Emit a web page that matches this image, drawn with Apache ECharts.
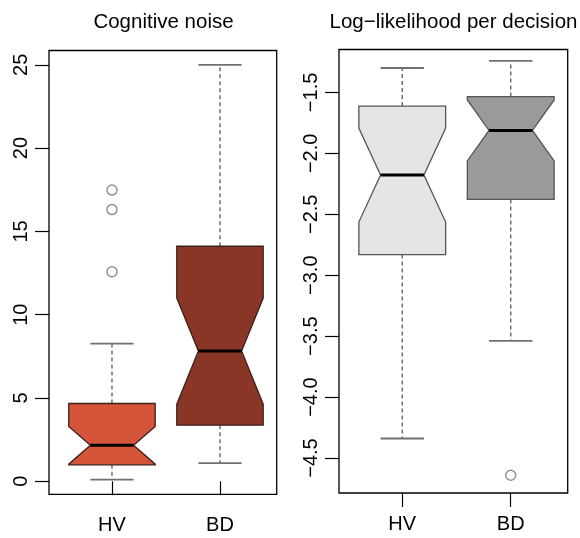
<!DOCTYPE html>
<html>
<head>
<meta charset="utf-8">
<script src="https://cdn.jsdelivr.net/npm/echarts@6/dist/echarts.min.js"></script>
<style>
  html, body { margin: 0; padding: 0; background: #ffffff; }
  #chart { width: 580px; height: 538px; }
</style>
</head>
<body>
<div id="chart"></div>
<script>
// ---- data ----
const categories = ['HV', 'BD'];
const titles = ['Cognitive noise', 'Log\u2212likelihood per decision'];
const noiseTicks = [0, 5, 10, 15, 20, 25];
const llTicks = [-4.5, -4.0, -3.5, -3.0, -2.5, -2.0, -1.5];
// [lower whisker, Q1, notch low, median, notch high, Q3, upper whisker]
const noiseHV = [0.1, 0.99, 1.03, 2.16, 3.29, 4.67, 8.27];
const noiseBD = [1.09, 3.37, 4.63, 7.82, 11.0, 14.11, 25.0];
const noiseOutHV = [12.58, 16.31, 17.48];
const noiseOutBD = [];
const llHV = [-4.34, -2.831, -2.564, -2.178, -1.792, -1.612, -1.30];
const llBD = [-3.538, -2.378, -2.062, -1.812, -1.562, -1.534, -1.241];
const llOutHV = [];
const llOutBD = [-4.641];

// ---- styles ----
const FONT = 'Liberation Sans, Arial, Helvetica, sans-serif';
const fillsLeft = ['#D4553A', '#8A3626'];
const fillsRight = ['#E5E5E5', '#9A9A9A'];
const borderLeft = '#3d2118';
const borderRight = '#555555';
const BOX_HALF = 0.4, NOTCH_HALF = 0.2, CAP_HALF = 0.2;

function boxData(stats) {
  return stats.map((s, i) => [i + 1].concat(s));
}
function outData(outs) {
  const d = [];
  outs.forEach((arr, i) => arr.forEach(v => d.push([i + 1, v])));
  return d;
}

function makeRender(fills, border) {
  return function (params, api) {
    const x = api.value(0);
    const lo = api.value(1), q1 = api.value(2), nlo = api.value(3), med = api.value(4),
          nhi = api.value(5), q3 = api.value(6), hi = api.value(7);
    const c = (xx, yy) => api.coord([xx, yy]);
    const poly = [
      c(x - BOX_HALF, q1), c(x + BOX_HALF, q1), c(x + BOX_HALF, nlo), c(x + NOTCH_HALF, med),
      c(x + BOX_HALF, nhi), c(x + BOX_HALF, q3), c(x - BOX_HALF, q3), c(x - BOX_HALF, nhi),
      c(x - NOTCH_HALF, med), c(x - BOX_HALF, nlo)
    ];
    const whiskerStyle = { stroke: '#666666', lineWidth: 1.4, lineDash: [4, 3], fill: null };
    const capStyle = { stroke: '#707070', lineWidth: 1.8, fill: null };
    return {
      type: 'group',
      children: [
        { type: 'line', shape: { x1: c(x, q3)[0], y1: c(x, q3)[1], x2: c(x, hi)[0], y2: c(x, hi)[1] }, style: whiskerStyle },
        { type: 'line', shape: { x1: c(x, q1)[0], y1: c(x, q1)[1], x2: c(x, lo)[0], y2: c(x, lo)[1] }, style: whiskerStyle },
        { type: 'line', shape: { x1: c(x - CAP_HALF, hi)[0], y1: c(x, hi)[1], x2: c(x + CAP_HALF, hi)[0], y2: c(x, hi)[1] }, style: capStyle },
        { type: 'line', shape: { x1: c(x - CAP_HALF, lo)[0], y1: c(x, lo)[1], x2: c(x + CAP_HALF, lo)[0], y2: c(x, lo)[1] }, style: capStyle },
        { type: 'polygon', shape: { points: poly }, style: { fill: fills[params.dataIndex], stroke: border, lineWidth: 1.3 } },
        { type: 'line', shape: { x1: c(x - NOTCH_HALF, med)[0], y1: c(x, med)[1], x2: c(x + NOTCH_HALF, med)[0], y2: c(x, med)[1] }, style: { stroke: '#000000', lineWidth: 3 } }
      ]
    };
  };
}

const minus = s => s.replace('-', '\u2212');

function xAxisCfg(gi) {
  return {
    gridIndex: gi, type: 'value', min: 0.417, max: 2.525,
    axisLine: { show: false }, splitLine: { show: false },
    axisTick: { show: true, customValues: [1, 2], length: 14, lineStyle: { color: '#000', width: 1.2 } },
    axisLabel: {
      customValues: [1, 2], margin: 21, fontSize: 20, color: '#000', fontFamily: FONT,
      formatter: v => categories[Math.round(v) - 1]
    }
  };
}
function yAxisCfg(gi, min, max, ticks, fmt) {
  return {
    gridIndex: gi, type: 'value', min: min, max: max,
    axisLine: { show: false }, splitLine: { show: false },
    axisTick: { show: true, customValues: ticks, length: 14, lineStyle: { color: '#000', width: 1.2 } },
    axisLabel: {
      customValues: ticks, rotate: 90, margin: 18, fontSize: 20, color: '#000', fontFamily: FONT,
      formatter: fmt
    }
  };
}

const chart = echarts.init(document.getElementById('chart'), null, { renderer: 'canvas' });
chart.setOption({
  backgroundColor: '#ffffff',
  animation: false,
  graphic: [
    { type: 'text', x: 163.5, y: 22, style: { text: titles[0], textAlign: 'center', textVerticalAlign: 'middle', fontSize: 20.5, fontFamily: FONT, fill: '#000' } },
    { type: 'text', x: 453.5, y: 22, style: { text: titles[1], textAlign: 'center', textVerticalAlign: 'middle', fontSize: 20.5, fontFamily: FONT, fill: '#000' } }
  ],
  grid: [
    { left: 49, top: 50.5, width: 227.7, height: 443.8, show: true, borderColor: '#000', borderWidth: 1.3, backgroundColor: 'transparent' },
    { left: 339, top: 49.5, width: 228.7, height: 443.5, show: true, borderColor: '#000', borderWidth: 1.3, backgroundColor: 'transparent' }
  ],
  xAxis: [xAxisCfg(0), xAxisCfg(1)],
  yAxis: [
    yAxisCfg(0, -0.78, 25.86, noiseTicks, v => minus(String(Math.round(v)))),
    yAxisCfg(1, -4.787, -1.148, llTicks, v => minus(Number(v).toFixed(1)))
  ],
  series: [
    { type: 'custom', xAxisIndex: 0, yAxisIndex: 0, renderItem: makeRender(fillsLeft, borderLeft),
      encode: { x: 0, y: [1, 2, 3, 4, 5, 6, 7] }, data: boxData([noiseHV, noiseBD]), clip: false },
    { type: 'custom', xAxisIndex: 1, yAxisIndex: 1, renderItem: makeRender(fillsRight, borderRight),
      encode: { x: 0, y: [1, 2, 3, 4, 5, 6, 7] }, data: boxData([llHV, llBD]), clip: false },
    { type: 'scatter', xAxisIndex: 0, yAxisIndex: 0, symbol: 'circle', symbolSize: 10,
      itemStyle: { color: 'rgba(0,0,0,0)', borderColor: '#777777', borderWidth: 1.5 },
      data: outData([noiseOutHV, noiseOutBD]) },
    { type: 'scatter', xAxisIndex: 1, yAxisIndex: 1, symbol: 'circle', symbolSize: 10,
      itemStyle: { color: 'rgba(0,0,0,0)', borderColor: '#777777', borderWidth: 1.5 },
      data: outData([llOutHV, llOutBD]) }
  ]
});
</script>
</body>
</html>
